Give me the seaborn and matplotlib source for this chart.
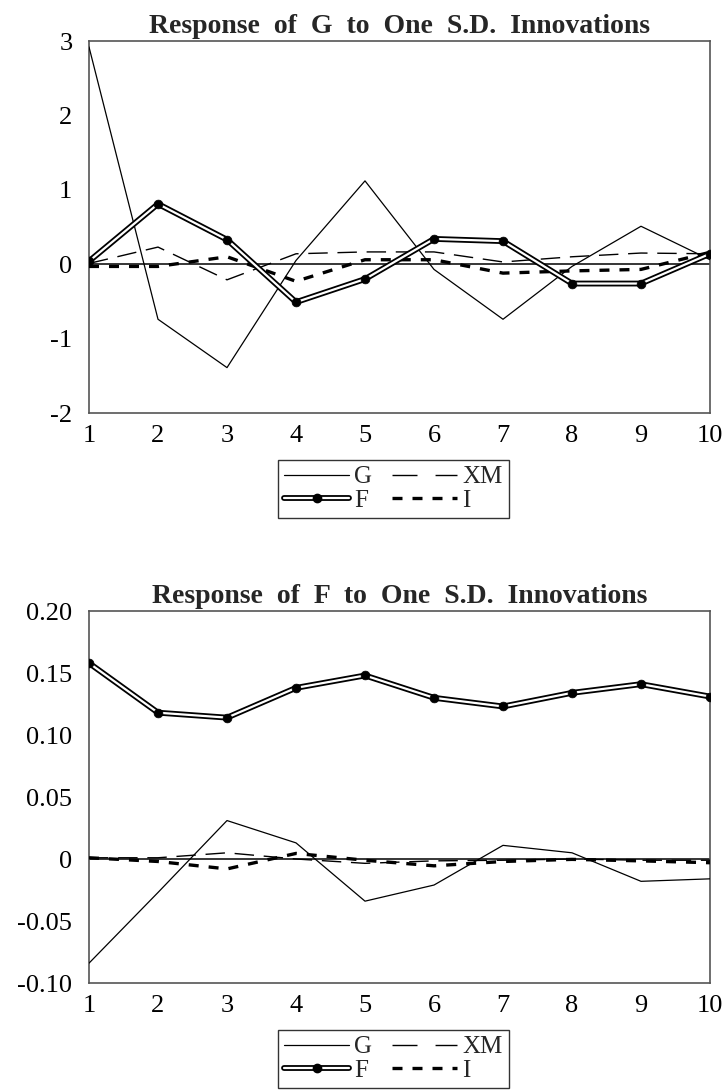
import numpy as np
import pandas as pd
import matplotlib
matplotlib.use("Agg")
import matplotlib.pyplot as plt
import seaborn as sns
from matplotlib.lines import Line2D
from matplotlib.legend_handler import HandlerTuple

# Impulse responses, periods 1..10
periods = list(range(1, 11))

# Response of G
g_to_g = [2.92, -0.74, -1.39, 0.05, 1.12, -0.07, -0.74, -0.03, 0.51, 0.06]
g_to_xm = [0.01, 0.23, -0.21, 0.14, 0.165, 0.165, 0.03, 0.10, 0.15, 0.14]
g_to_f = [0.04, 0.81, 0.33, -0.51, -0.20, 0.34, 0.31, -0.26, -0.26, 0.14]
g_to_i = [-0.03, -0.03, 0.10, -0.23, 0.06, 0.06, -0.12, -0.09, -0.07, 0.16]

# Response of F
f_to_g = [-0.084, -0.027, 0.031, 0.013, -0.034, -0.021, 0.011, 0.005, -0.018, -0.016]
f_to_xm = [0.001, 0.001, 0.005, 0.0, -0.0035, -0.0015, -0.001, 0.0, -0.001, -0.001]
f_to_f = [0.158, 0.118, 0.114, 0.138, 0.148, 0.130, 0.123, 0.134, 0.141, 0.131]
f_to_i = [0.001, -0.002, -0.008, 0.0045, -0.001, -0.0055, -0.002, -0.0003, -0.0015, -0.003]

g_ticks = [-2, -1, 0, 1, 2, 3]
g_ticklabels = ["-2", "-1", "0", "1", "2", "3"]
f_ticks = [-0.10, -0.05, 0.0, 0.05, 0.10, 0.15, 0.20]
f_ticklabels = ["-0.10", "-0.05", "0", "0.05", "0.10", "0.15", "0.20"]

sns.set_theme(style="white")
plt.rcParams["font.family"] = ["Liberation Serif", "DejaVu Serif"]

fig = plt.figure(figsize=(7.27, 10.90), dpi=100)
W, H = 727, 1090
ax1 = fig.add_axes([89 / W, 1 - 413 / H, 621 / W, 372 / H])
ax2 = fig.add_axes([89 / W, 1 - 983 / H, 621 / W, 372 / H])

xm_dash = (14, 7)
i_dash = (3, 3)


def draw(ax, g, xm, f, i_, title, ylim, ticks, labels):
    ax.axhline(0, color="black", lw=1.1, zorder=1)
    sns.lineplot(x=periods, y=g, ax=ax, color="black", lw=0.9, zorder=3)
    sns.lineplot(x=periods, y=xm, ax=ax, color="black", lw=1.0, zorder=3)
    ax.lines[-1].set_dashes(xm_dash)
    sns.lineplot(x=periods, y=i_, ax=ax, color="black", lw=2.4, zorder=3)
    ax.lines[-1].set_dashes(i_dash)
    # double line with dots for F
    sns.lineplot(x=periods, y=f, ax=ax, color="black", lw=4.2, zorder=4)
    sns.lineplot(x=periods, y=f, ax=ax, color="white", lw=1.6, zorder=5)
    sns.scatterplot(x=periods, y=f, ax=ax, color="black", s=40,
                    edgecolor="black", zorder=6)
    ax.set_xlim(1, 10)
    ax.set_ylim(*ylim)
    ax.set_xticks(periods)
    ax.set_xticklabels([str(p) for p in periods])
    ax.set_yticks(ticks)
    ax.set_yticklabels(labels)
    ax.tick_params(axis="both", labelsize=19, colors="black", direction="out")
    ax.tick_params(axis="y", length=9, width=1, color="#555555", pad=3)
    ax.tick_params(axis="x", length=6, width=1, color="#555555", pad=3)
    for sp in ax.spines.values():
        sp.set_color("#555555")
        sp.set_linewidth(1.2)
    ax.set_xlabel("")
    ax.set_ylabel("")
    ax.set_title(title, fontsize=20, fontweight="bold", pad=6)

    h_g = Line2D([], [], color="black", lw=0.9)
    h_xm = Line2D([], [], color="black", lw=1.0, dashes=(18, 13))
    h_i = Line2D([], [], color="black", lw=2.4, dashes=i_dash)
    h_f = (Line2D([], [], color="black", lw=4.2),
           Line2D([], [], color="white", lw=1.6),
           Line2D([], [], color="black", marker="o", ls="none", ms=6))
    ax.legend([h_g, h_f, h_xm, h_i], ["G", "F", "XM", "I"], ncol=2,
              loc="upper center", bbox_to_anchor=(0.49, -0.125),
              handler_map={tuple: HandlerTuple(ndivide=1)},
              fontsize=18, frameon=True, fancybox=False, edgecolor="black",
              handlelength=2.6, handletextpad=0.2, columnspacing=0.8,
              labelspacing=0.05, borderpad=0.25, borderaxespad=0)
    ax.get_legend().get_frame().set_linewidth(1.0)


draw(ax1, g_to_g, g_to_xm, g_to_f, g_to_i,
     "Response  of  G  to  One  S.D.  Innovations", (-2, 3), g_ticks, g_ticklabels)
draw(ax2, f_to_g, f_to_xm, f_to_f, f_to_i,
     "Response  of  F  to  One  S.D.  Innovations", (-0.10, 0.20), f_ticks, f_ticklabels)

fig.savefig("out.png", dpi=100)
